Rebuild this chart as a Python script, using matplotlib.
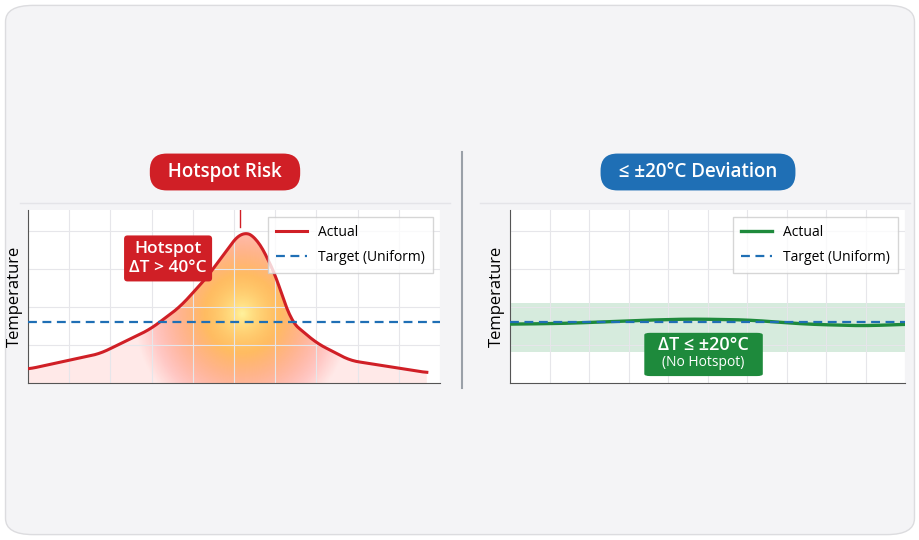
import numpy as np
import matplotlib
matplotlib.use("Agg")
import matplotlib.pyplot as plt
from matplotlib.patches import FancyBboxPatch, Polygon
from matplotlib.lines import Line2D

plt.rcParams['font.family'] = ['Open Sans', 'DejaVu Sans']

# left panel: temperature profile with hotspot (x 0..10, y 0..100)
hot_x = [0.0, 1.75, 2.96, 3.69, 4.34, 4.83, 5.19, 5.56, 6.04, 6.36, 7.01, 7.82, 9.68]
hot_y = [8, 17, 31, 44, 61, 77, 88, 84, 61, 36, 23, 13, 6]
target_left = 35

# right panel: uniform profile
uni_x = [0.0, 1.5, 3.0, 4.5, 6.0, 7.5, 9.0, 10.0]
uni_y = [34, 34.5, 36, 37, 36.5, 34, 33, 34]
target_right = 35
band_low, band_high = 18, 46

RED = '#d01f26'
BLUE = '#1f6fb5'
GREEN = '#1e8a3c'

fig = plt.figure(figsize=(9.2, 5.4), dpi=100)
fig.patch.set_facecolor('white')
card = FancyBboxPatch((0.006, 0.01), 0.988, 0.98, boxstyle='round,pad=0,rounding_size=0.03',
                      transform=fig.transFigure, facecolor='#f4f4f6', edgecolor='#dcdcdf', lw=1,
                      zorder=-10)
fig.add_artist(card)

# separator and title underlines
fig.add_artist(Line2D([462/920, 462/920], [1-152/540, 1-388/540], color='#9aa0a8', lw=1.5))
fig.add_artist(Line2D([20/920, 450/920], [1-203/540]*2, color='#e4e4e8', lw=1, zorder=-5))
fig.add_artist(Line2D([480/920, 910/920], [1-203/540]*2, color='#e4e4e8', lw=1, zorder=-5))


def pill(xc, yc, text, color):
    fig.text(xc/920, 1-yc/540, text, ha='center', va='center', color='white', fontsize=13.5,
             fontweight='semibold',
             bbox=dict(boxstyle='round,pad=0.45,rounding_size=0.9', facecolor=color, edgecolor='none'))


pill(225, 172, '  Hotspot Risk  ', RED)
pill(698, 172, '  ≤ ±20°C Deviation  ', BLUE)


def setup(ax):
    ax.set_xlim(0, 10)
    ax.set_ylim(0, 100)
    ax.set_facecolor('white')
    ax.set_xticks(np.arange(0, 10.1, 1.0))
    ax.set_yticks([22, 44, 66, 88])
    ax.grid(True, color='#e6e6ea', lw=0.8)
    ax.tick_params(length=0, labelbottom=False, labelleft=False)
    for s in ['top', 'right']:
        ax.spines[s].set_visible(False)
    for s in ['left', 'bottom']:
        ax.spines[s].set_color('#555555')
    ax.set_ylabel('Temperature', fontsize=12, labelpad=4)


ax1 = fig.add_axes([28/920, 1-383/540, 412/920, 173/540])
setup(ax1)

xs = np.linspace(0, 9.68, 300)
ys = np.interp(xs, hot_x, hot_y)
ys = np.convolve(np.pad(ys, 6, mode='edge'), np.ones(13)/13, mode='valid')

# heat glow clipped under the curve
gx, gy = np.meshgrid(np.linspace(0, 10, 300), np.linspace(0, 100, 200))
r = np.sqrt(((gx - 5.2) / 2.2) ** 2 + ((gy - 40) / 55) ** 2)
img = np.zeros(gx.shape + (4,))
img[..., 0] = 1.0
img[..., 1] = np.clip(0.95 - 0.8 * r, 0.15, 0.95)
img[..., 2] = np.clip(0.6 - 1.2 * r, 0.1, 0.6)
img[..., 3] = np.clip(1.0 - 0.75 * r, 0.1, 0.95)
im = ax1.imshow(img, extent=[0, 10, 0, 100], origin='lower', aspect='auto', zorder=1)
poly = Polygon(np.column_stack([np.r_[xs, xs[::-1]], np.r_[ys, np.zeros_like(ys)]]),
               closed=True, transform=ax1.transData, facecolor='none', edgecolor='none')
ax1.add_patch(poly)
im.set_clip_path(poly)

ax1.plot(xs, ys, color=RED, lw=2.2, zorder=3, label='Actual')
ax1.axhline(target_left, color=BLUE, lw=1.6, ls=(0, (4, 2.5)), zorder=4, label='Target (Uniform)')
ax1.plot([5.15, 5.15], [90, 100], color=RED, lw=1, zorder=3)
ax1.text(3.4, 72, 'Hotspot\nΔT > 40°C', ha='center', va='center', color='white', fontsize=12.5,
         fontweight='semibold', zorder=5, linespacing=1.3,
         bbox=dict(boxstyle='round,pad=0.3,rounding_size=0.2', facecolor=RED, edgecolor='none'))
ax1.legend(loc='upper right', fontsize=10, frameon=True, fancybox=False, edgecolor='#cccccc',
           handlelength=2.2, borderpad=0.6, labelspacing=0.7)

ax2 = fig.add_axes([510/920, 1-383/540, 395/920, 173/540])
setup(ax2)
ax2.fill_between([0, 10], band_low, band_high, color='#cfe8d8', alpha=0.85, lw=0, zorder=1)
xs2 = np.linspace(0, 10, 200)
ys2 = np.interp(xs2, uni_x, uni_y)
ys2 = np.convolve(np.pad(ys2, 10, mode='edge'), np.ones(21)/21, mode='valid')
ax2.plot(xs2, ys2, color=GREEN, lw=2.4, zorder=3, label='Actual')
ax2.axhline(target_right, color=BLUE, lw=1.6, ls=(0, (4, 2.5)), zorder=4, label='Target (Uniform)')
ax2.text(4.9, 17, 'ΔT ≤ ±20°C', ha='center', va='bottom', color='white', fontsize=13,
         fontweight='semibold', zorder=6)
ax2.text(4.9, 16, '(No Hotspot)', ha='center', va='top', color='white', fontsize=10, zorder=6)
ax2.add_patch(FancyBboxPatch((3.4, 4), 3.0, 25, boxstyle='round,pad=0,rounding_size=0.15',
                             facecolor=GREEN, edgecolor='none', zorder=5,
                             mutation_aspect=8))
ax2.legend(loc='upper right', fontsize=10, frameon=True, fancybox=False, edgecolor='#cccccc',
           handlelength=2.2, borderpad=0.6, labelspacing=0.7)

fig.savefig('out.png', dpi=100, facecolor=fig.get_facecolor())
